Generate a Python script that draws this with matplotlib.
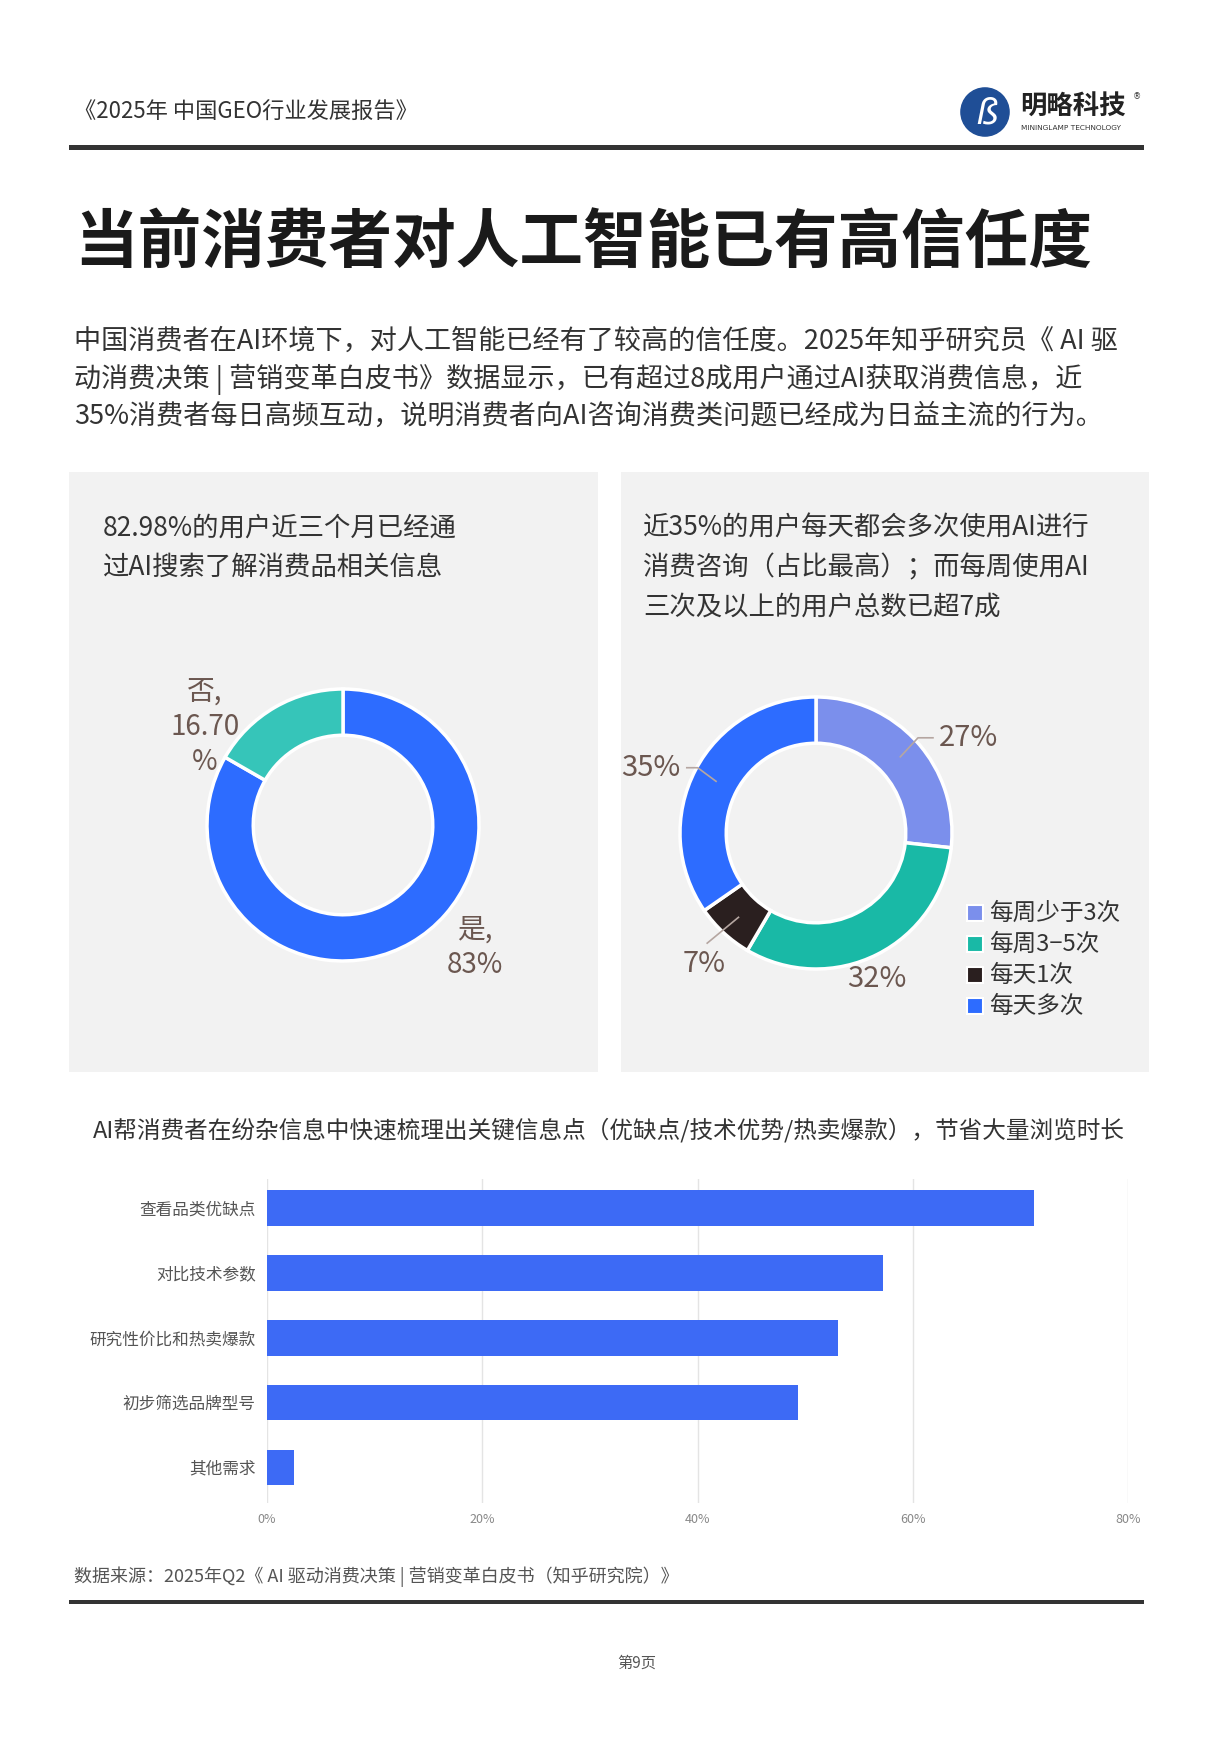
import matplotlib
matplotlib.use("Agg")
import matplotlib.pyplot as plt
from matplotlib.patches import Rectangle, Circle

plt.rcParams['font.family'] = ['Noto Sans CJK SC', 'DejaVu Sans']

# ---- data ----
header_text = "《2025年 中国GEO行业发展报告》"
title_text = "当前消费者对人工智能已有高信任度"
para_lines = [
    "中国消费者在AI环境下，对人工智能已经有了较高的信任度。2025年知乎研究员《 AI 驱",
    "动消费决策 | 营销变革白皮书》数据显示，已有超过8成用户通过AI获取消费信息，近",
    "35%消费者每日高频互动，说明消费者向AI咨询消费类问题已经成为日益主流的行为。",
]

left_title = ["82.98%的用户近三个月已经通", "过AI搜索了解消费品相关信息"]
left_labels = ["是,\n83%", "否,\n16.70\n%"]
left_values = [83.30, 16.70]
left_colors = ['#2d6cff', '#36c5b9']

right_title = ["近35%的用户每天都会多次使用AI进行",
               "消费咨询（占比最高）；而每周使用AI",
               "三次及以上的用户总数已超7成"]
right_cats = ["每周少于3次", "每周3−5次", "每天1次", "每天多次"]
right_values = [27, 32, 7, 35]
right_colors = ['#7b8fec', '#19b9a6', '#2a1f1f', '#2d6cff']

bar_title = "AI帮消费者在纷杂信息中快速梳理出关键信息点（优缺点/技术优势/热卖爆款），节省大量浏览时长"
bar_cats = ["查看品类优缺点", "对比技术参数", "研究性价比和热卖爆款", "初步筛选品牌型号", "其他需求"]
bar_values = [71.3, 57.2, 53.1, 49.3, 2.5]
bar_ticks = [0, 20, 40, 60, 80]

source_text = "数据来源：2025年Q2《 AI 驱动消费决策 | 营销变革白皮书（知乎研究院）》"
page_text = "第9页"

# ---- layout helpers (pixel coords, origin top-left) ----
W, H = 1213, 1753
fig = plt.figure(figsize=(W / 100, H / 100), dpi=100)
fig.patch.set_facecolor('white')


def fx(x):
    return x / W


def fy(y):
    return 1 - y / H


def px_axes(x0, y0, x1, y1):
    return fig.add_axes([fx(x0), fy(y1), (x1 - x0) / W, (y1 - y0) / H])


def rule(y, lw):
    fig.add_artist(Rectangle((fx(69), fy(y + lw / 2)), (1144 - 69) / W, lw / H,
                             transform=fig.transFigure, color='#333333', lw=0))


label_col = '#6b5750'

# header
fig.text(fx(74), fy(112), header_text, fontsize=16, color='#333333', va='center', weight='light')
rule(147.5, 5)

# logo
lax = px_axes(950, 78, 1020, 146)
lax.set_xlim(-1.2, 1.2)
lax.set_ylim(-1.2, 1.2)
lax.set_aspect('equal')
lax.axis('off')
lax.add_patch(Circle((0, 0), 0.85, color='#1f4e96'))
lax.text(0.05, -0.05, "ß", color='white', fontsize=26, ha='center', va='center',
         style='italic', family='DejaVu Sans')
fig.text(fx(1020), fy(107), "明略科技", fontsize=19, weight='bold', color='#222222', va='center')
fig.text(fx(1021), fy(127.5), "MININGLAMP TECHNOLOGY", fontsize=5.3, color='#333333',
         va='center', family='DejaVu Sans')
fig.text(fx(1133), fy(97), "®", fontsize=6, color='#333333', va='center', family='DejaVu Sans')

# title
fig.text(fx(74), fy(243), title_text, fontsize=45.8, weight='heavy', color='#1a1a1a', va='center')

# paragraph
for i, line in enumerate(para_lines):
    fig.text(fx(74), fy(341.5 + 37.5 * i), line, fontsize=19.5, color='#333333',
             va='center', weight='light')

# panels
for x0, x1 in [(69, 598), (621, 1149)]:
    fig.add_artist(Rectangle((fx(x0), fy(1072)), (x1 - x0) / W, (1072 - 472) / H,
                             transform=fig.transFigure, color='#f2f2f2', lw=0, zorder=-1))

for i, line in enumerate(left_title):
    fig.text(fx(103), fy(528 + 39.5 * i), line, fontsize=19, color='#333333', va='center',
             weight='light')
for i, line in enumerate(right_title):
    fig.text(fx(643), fy(528 + 39.5 * i), line, fontsize=19, color='#333333', va='center',
             weight='light')

R = 136
SPAN = 1.6


def donut(cx, cy, values, colors):
    half = R * SPAN
    ax = px_axes(cx - half, cy - half, cx + half, cy + half)
    ax.pie(values, colors=colors, startangle=90, counterclock=False, radius=1,
           wedgeprops=dict(width=0.34, edgecolor='white', linewidth=2.5))
    # pie resets the limits, so set them afterwards
    ax.set_xlim(-SPAN, SPAN)
    ax.set_ylim(-SPAN, SPAN)
    ax.set_aspect('equal')
    ax.axis('off')
    ax.patch.set_alpha(0)
    return ax


# left donut
axl = donut(343, 825, left_values, left_colors)
left_label_pos = [(0.97, -0.90), (-1.015, 0.72)]
for lab, (x, y) in zip(left_labels, left_label_pos):
    axl.text(x, y, lab, fontsize=20, color=label_col, ha='center', va='center',
             linespacing=1.2, weight='light')

# right donut
axr = donut(816, 833, right_values, right_colors)
right_label_pos = [(0.90, 0.70, 'left'), (0.45, -1.07, 'center'),
                   (-0.82, -0.96, 'center'), (-1.0, 0.48, 'right')]
leaders = [[(0.62, 0.56), (0.75, 0.70), (0.86, 0.70)],
           None,
           [(-0.57, -0.62), (-0.80, -0.81)],
           [(-0.735, 0.38), (-0.87, 0.48), (-0.95, 0.48)]]
for v, (x, y, ha), ld in zip(right_values, right_label_pos, leaders):
    axr.text(x, y, f"{v}%", fontsize=21, color=label_col, ha=ha, va='center', weight='light')
    if ld:
        axr.plot([p[0] for p in ld], [p[1] for p in ld], color='#b5a6a1', lw=1.2)

# legend for right donut
for i, (cat, col) in enumerate(zip(right_cats, right_colors)):
    yc = 913 + 31 * i
    fig.add_artist(Rectangle((fx(967), fy(yc + 8)), 16 / W, 16 / H, transform=fig.transFigure,
                             facecolor=col, edgecolor='white', lw=1.5))
    fig.text(fx(989), fy(yc), cat, fontsize=17, color='#333333', va='center', weight='light')

# bar chart
fig.text(fx(609), fy(1130), bar_title, fontsize=17, color='#333333', ha='center', va='center',
         weight='light')
axb = px_axes(267, 1179, 1128, 1503)
axb.barh(range(len(bar_cats)), bar_values, height=0.55, color='#3d6af5', zorder=3)
axb.set_xlim(0, 80)
axb.set_ylim(len(bar_cats) - 0.45, -0.45)
axb.set_yticks(range(len(bar_cats)))
axb.set_yticklabels(bar_cats, fontsize=12, color='#555555', weight='medium')
axb.set_xticks(bar_ticks)
axb.set_xticklabels([f"{t}%" for t in bar_ticks], fontsize=9, color='#888888')
axb.tick_params(axis='both', length=0)
axb.tick_params(axis='y', pad=8)
axb.tick_params(axis='x', pad=7)
axb.grid(axis='x', color='#e4e4e4', lw=1, zorder=0)
axb.set_axisbelow(True)
for s in axb.spines.values():
    s.set_visible(False)

# source & footer
fig.text(fx(74), fy(1576.5), source_text, fontsize=13, color='#555555', va='center',
         weight='light')
rule(1602, 3.5)
fig.text(fx(637), fy(1663), page_text, fontsize=11, color='#555555', ha='center', va='center')

fig.savefig("out.png", dpi=100, facecolor='white')
